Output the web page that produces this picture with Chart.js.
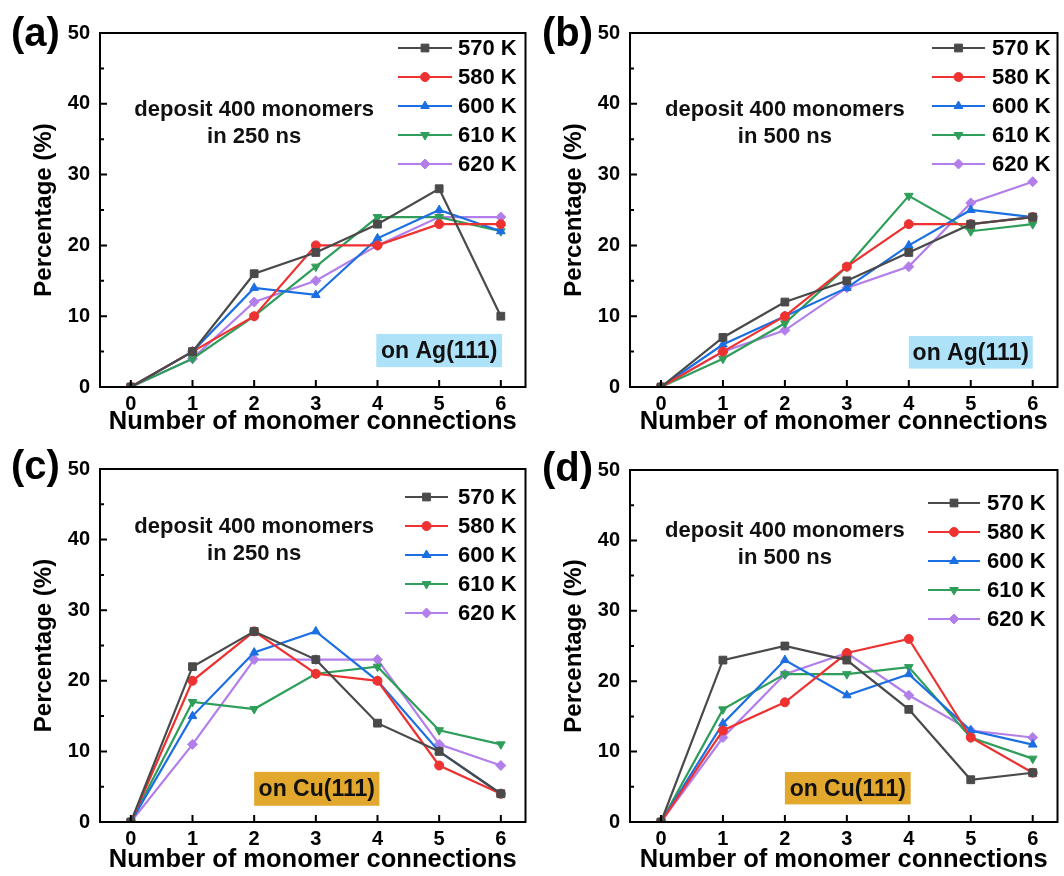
<!DOCTYPE html>
<html>
<head>
<meta charset="utf-8">
<script src="https://cdn.jsdelivr.net/npm/chart.js@4.4.1/dist/chart.umd.min.js"></script>
<style>
  html, body { margin: 0; padding: 0; background: #fff; overflow: hidden; }
  .panel { position: absolute; width: 532px; height: 438px; }
</style>
</head>
<body>
<div class="panel" style="left:0;top:0"><canvas id="chartA"></canvas></div>
<div class="panel" style="left:532px;top:0"><canvas id="chartB"></canvas></div>
<div class="panel" style="left:0;top:438px"><canvas id="chartC"></canvas></div>
<div class="panel" style="left:532px;top:438px"><canvas id="chartD"></canvas></div>
<script>
// number of monomer connections
const xTicks = [0, 1, 2, 3, 4, 5, 6];
const yTicks = [0, 10, 20, 30, 40, 50];
const temps = ['570 K', '580 K', '600 K', '610 K', '620 K'];

// (a) Ag(111), 250 ns  -- rows follow temps
const ag250 = [
  [0, 5, 16, 19, 23, 28, 10],
  [0, 5, 10, 20, 20, 23, 23],
  [0, 5, 14, 13, 21, 25, 22],
  [0, 4, 10, 17, 24, 24, 22],
  [0, 4, 12, 15, 20, 24, 24]
];
// (b) Ag(111), 500 ns
const ag500 = [
  [0, 7, 12, 15, 19, 23, 24],
  [0, 5, 10, 17, 23, 23, 24],
  [0, 6, 10, 14, 20, 25, 24],
  [0, 4, 9, 17, 27, 22, 23],
  [0, 5, 8, 14, 17, 26, 29]
];
// (c) Cu(111), 250 ns
const cu250 = [
  [0, 22, 27, 23, 14, 10, 4],
  [0, 20, 27, 21, 20, 8, 4],
  [0, 15, 24, 27, 20, 10, 4],
  [0, 17, 16, 21, 22, 13, 11],
  [0, 11, 23, 23, 23, 11, 8]
];
// (d) Cu(111), 500 ns
const cu500 = [
  [0, 23, 25, 23, 16, 6, 7],
  [0, 13, 17, 24, 26, 12, 7],
  [0, 14, 23, 18, 21, 13, 11],
  [0, 16, 21, 21, 22, 12, 9],
  [0, 12, 21, 24, 18, 13, 12]
];

const colors = ['#4a4a4a', '#ee3232', '#1b6fe2', '#2f9e5a', '#b27fea'];
const styles = ['rect', 'circle', 'triangle', 'triangle', 'rectRot'];
const rots = [0, 0, 0, 180, 0];
const radii = [5.5, 4.5, 5, 5, 5];
const FONT = '"Liberation Sans", Arial, sans-serif';

const decoPlugin = {
  id: 'deco',
  beforeDatasetsDraw(chart, args, opts) {
    const ctx = chart.ctx, x = chart.scales.x, y = chart.scales.y;
    // substrate box
    const b = opts.box;
    const bx0 = x.getPixelForValue(b.x0), bx1 = x.getPixelForValue(b.x1);
    const by0 = y.getPixelForValue(b.y1), by1 = y.getPixelForValue(b.y0);
    ctx.save();
    ctx.fillStyle = b.color;
    ctx.fillRect(bx0, by0, bx1 - bx0, by1 - by0);
    ctx.fillStyle = '#111';
    ctx.font = 'bold 23px ' + FONT;
    ctx.textAlign = 'center';
    ctx.textBaseline = 'middle';
    ctx.fillText(b.text, (bx0 + bx1) / 2, (by0 + by1) / 2 + 1);
    // deposit note
    ctx.font = 'bold 22px ' + FONT;
    const n = opts.note;
    n.lines.forEach((t, i) => {
      ctx.fillText(t, x.getPixelForValue(n.x), y.getPixelForValue(n.ys[i]));
    });
    ctx.restore();
  },
  afterDraw(chart, args, opts) {
    const ctx = chart.ctx, a = chart.chartArea, x = chart.scales.x, y = chart.scales.y;
    ctx.save();
    // inward ticks
    ctx.strokeStyle = '#000';
    ctx.lineWidth = 2;
    ctx.beginPath();
    xTicks.forEach(v => {
      const px = x.getPixelForValue(v);
      ctx.moveTo(px, a.bottom); ctx.lineTo(px, a.bottom - 7);
    });
    for (let v = 0; v <= 50; v += 5) {
      const py = y.getPixelForValue(v);
      ctx.moveTo(a.left, py); ctx.lineTo(a.left + (v % 10 === 0 ? 7 : 4), py);
    }
    ctx.stroke();
    // frame
    ctx.strokeRect(a.left, a.top, a.right - a.left, a.bottom - a.top);
    // panel label
    ctx.fillStyle = '#000';
    ctx.font = 'bold 40px ' + FONT;
    ctx.textAlign = 'left';
    ctx.textBaseline = 'middle';
    ctx.fillText(opts.label, opts.labelX, opts.labelY);
    // legend
    const L = opts.legend;
    chart.data.datasets.forEach((ds, i) => {
      const ry = a.top + L.y0 + i * 29;
      ctx.strokeStyle = ds.borderColor;
      ctx.lineWidth = 2;
      ctx.beginPath();
      ctx.moveTo(a.left + L.x0, ry); ctx.lineTo(a.left + L.x1, ry);
      ctx.stroke();
      ctx.fillStyle = ds.borderColor;
      ctx.lineWidth = 1;
      Chart.helpers.drawPoint(ctx, {
        pointStyle: ds.pointStyle, radius: ds.pointRadius,
        rotation: ds.pointRotation, borderWidth: 1
      }, a.left + (L.x0 + L.x1) / 2, ry);
      ctx.fillStyle = '#000';
      ctx.font = 'bold 22px ' + FONT;
      ctx.textAlign = 'left';
      ctx.fillText(ds.label, a.left + L.tx, ry + 1);
    });
    ctx.restore();
  }
};

function makeChart(id, series, cfg) {
  new Chart(document.getElementById(id), {
    type: 'line',
    data: {
      datasets: series.map((vals, i) => ({
        label: temps[i],
        data: vals.map((v, j) => ({ x: xTicks[j], y: v })),
        borderColor: colors[i],
        backgroundColor: colors[i],
        borderWidth: 2.2,
        pointStyle: styles[i],
        pointRotation: rots[i],
        pointRadius: radii[i],
        pointBorderWidth: 1,
        tension: 0
      }))
    },
    options: {
      responsive: true,
      maintainAspectRatio: false,
      animation: false,
      layout: { padding: { top: cfg.top, left: 0, right: cfg.right, bottom: 0 } },
      plugins: {
        legend: { display: false },
        tooltip: { enabled: false },
        deco: cfg.deco
      },
      scales: {
        x: {
          type: 'linear',
          min: -0.5, max: 6.4,
          afterBuildTicks: s => { s.ticks = xTicks.map(v => ({ value: v })); },
          afterFit: s => { s.height = cfg.xh; },
          grid: { display: false, drawTicks: false, tickLength: 0 },
          border: { display: false },
          ticks: { color: '#000', font: { family: FONT, size: 20, weight: 'bold' }, padding: 5, maxRotation: 0 },
          title: {
            display: true, text: 'Number of monomer connections', color: '#000',
            font: { family: FONT, size: 25.5, weight: 'bold' }, padding: { top: 0, bottom: 1 }
          }
        },
        y: {
          min: 0, max: 50,
          afterBuildTicks: s => { s.ticks = yTicks.map(v => ({ value: v })); },
          afterFit: s => { s.width = cfg.yw; },
          grid: { display: false, drawTicks: false, tickLength: 0 },
          border: { display: false },
          ticks: { color: '#000', font: { family: FONT, size: 20, weight: 'bold' }, padding: 10 },
          title: {
            display: true, text: 'Percentage (%)', color: '#000',
            font: { family: FONT, size: 24, weight: 'bold' }, padding: { top: cfg.yt, bottom: 0 }
          }
        }
      }
    },
    plugins: [decoPlugin]
  });
}

makeChart('chartA', ag250, {
  top: 33, right: 2, xh: 51, yw: 100, yt: 30,
  deco: {
    label: '(a)', labelX: 11, labelY: 35,
    note: { x: 2, ys: [39.1, 35.3], lines: ['deposit 400 monomers', 'in 250 ns'] },
    box: { x0: 3.98, x1: 6.02, y0: 2.8, y1: 7.5, color: '#aee2f8', text: 'on Ag(111)' },
    legend: { x0: 298, x1: 352, tx: 358, y0: 15 }
  }
});
makeChart('chartB', ag500, {
  top: 33, right: 3, xh: 51, yw: 98, yt: 28,
  deco: {
    label: '(b)', labelX: 10, labelY: 35,
    note: { x: 2, ys: [39.1, 35.3], lines: ['deposit 400 monomers', 'in 500 ns'] },
    box: { x0: 4.0, x1: 6.0, y0: 2.6, y1: 7.2, color: '#aee2f8', text: 'on Ag(111)' },
    legend: { x0: 302, x1: 355, tx: 362, y0: 15 }
  }
});
makeChart('chartC', cu250, {
  top: 31, right: 2, xh: 54, yw: 100, yt: 30,
  deco: {
    label: '(c)', labelX: 11, labelY: 30,
    note: { x: 2, ys: [41.8, 38.0], lines: ['deposit 400 monomers', 'in 250 ns'] },
    box: { x0: 2.0, x1: 4.03, y0: 2.3, y1: 7.1, color: '#e2a82e', text: 'on Cu(111)' },
    legend: { x0: 305, x1: 348, tx: 358, y0: 28 }
  }
});
makeChart('chartD', cu500, {
  top: 32, right: 3, xh: 54, yw: 98, yt: 28,
  deco: {
    label: '(d)', labelX: 10, labelY: 32,
    note: { x: 2, ys: [41.3, 37.5], lines: ['deposit 400 monomers', 'in 500 ns'] },
    box: { x0: 2.0, x1: 4.03, y0: 2.5, y1: 7.1, color: '#e2a82e', text: 'on Cu(111)' },
    legend: { x0: 298, x1: 350, tx: 357, y0: 33 }
  }
});
</script>
</body>
</html>
